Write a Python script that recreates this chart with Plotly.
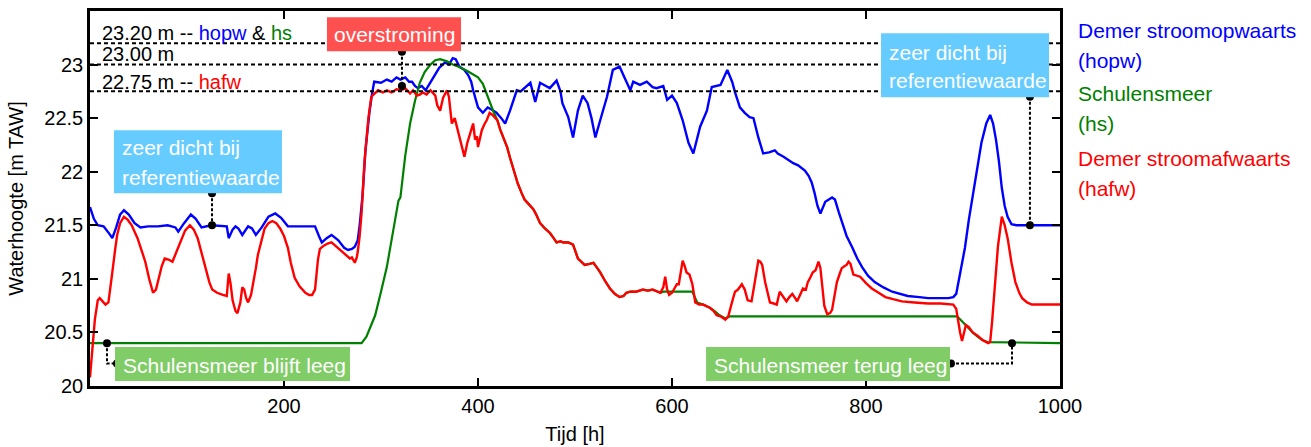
import plotly.graph_objects as go

# ---- water levels [m TAW] versus time [h] ----
hopw_t = [0, 4, 8, 14, 20, 23, 27, 31, 35, 40, 46, 52, 60, 70, 80, 88, 91, 97, 104, 109, 115, 125,
          141, 143, 147, 150, 153, 157, 163, 167, 171, 177, 184, 191, 197, 204, 215, 232, 236, 239,
          244, 249, 256, 262, 266, 270, 273, 276, 278, 281, 284, 288, 291, 293, 300, 306, 311, 316,
          320, 325, 329, 332, 335, 338, 342, 346, 350, 355, 360, 366, 370, 374, 377, 381, 386, 390,
          393, 395, 398, 400, 405, 410, 414, 419, 424, 428, 433, 440, 444, 448, 454, 459, 464, 470,
          474, 481, 485, 487, 493, 498, 503, 508, 513, 517, 521, 526, 533, 539, 546, 551, 557, 560,
          567, 574, 580, 584, 591, 595, 600, 605, 611, 617, 622, 629, 636, 641, 650, 657, 662, 665,
          670, 675, 680, 684, 689, 694, 700, 706, 709, 715, 720, 725, 730, 737, 741, 744, 747, 750,
          753, 758, 765, 768, 772, 775, 780, 786, 791, 796, 802, 809, 818, 827, 835, 843, 855, 864,
          875, 885, 890, 893, 897, 902, 906, 909, 914, 919, 924, 928, 931, 934, 937, 940, 943, 946,
          950, 955, 1000]
hopw = [21.67, 21.56, 21.50, 21.49, 21.42, 21.38, 21.48, 21.60, 21.64, 21.60, 21.52, 21.48, 21.49,
        21.49, 21.50, 21.48, 21.44, 21.52, 21.60, 21.56, 21.48, 21.50, 21.49, 21.38, 21.46, 21.49,
        21.47, 21.41, 21.49, 21.47, 21.41, 21.48, 21.58, 21.61, 21.57, 21.49, 21.49, 21.49, 21.40,
        21.34, 21.38, 21.41, 21.36, 21.29, 21.27, 21.28, 21.30, 21.36, 21.50, 21.78, 22.20, 22.55,
        22.74, 22.84, 22.83, 22.86, 22.84, 22.88, 22.86, 22.88, 22.84, 22.84, 22.80, 22.78, 22.80,
        22.76, 22.82, 22.90, 22.97, 23.02, 23.00, 23.06, 23.05, 22.98, 22.95, 22.90, 22.84, 22.76,
        22.66, 22.60, 22.55, 22.60, 22.58, 22.55, 22.50, 22.45, 22.57, 22.76, 22.75, 22.78, 22.83,
        22.65, 22.83, 22.80, 22.78, 22.85, 22.75, 22.64, 22.51, 22.32, 22.57, 22.71, 22.64, 22.50,
        22.32, 22.48, 22.70, 22.95, 22.98, 22.88, 22.76, 22.84, 22.81, 22.84, 22.79, 22.78, 22.80,
        22.67, 22.71, 22.64, 22.48, 22.27, 22.17, 22.42, 22.57, 22.79, 22.81, 22.95, 22.84, 22.74,
        22.60, 22.55, 22.51, 22.50, 22.32, 22.17, 22.18, 22.20, 22.17, 22.14, 22.11, 22.08, 22.06,
        22.01, 21.96, 21.90, 21.80, 21.68, 21.61, 21.72, 21.76, 21.74, 21.62, 21.53, 21.40, 21.29,
        21.19, 21.11, 21.03, 20.97, 20.92, 20.88, 20.86, 20.84, 20.83, 20.82, 20.82, 20.82, 20.83,
        20.86, 21.05, 21.29, 21.55, 21.72, 22.00, 22.27, 22.45, 22.53, 22.45, 22.30, 22.10, 21.85,
        21.68, 21.58, 21.51, 21.50, 21.50]

# falling limb shared by the lake and the downstream river
fall_t = [420, 423, 427, 430, 433, 436, 441, 445, 448, 452, 457, 460, 464, 469, 474, 478, 481, 485,
          488, 493, 498, 503, 507, 510, 515, 519, 523, 526, 531, 536, 541, 546, 550, 553, 557, 563,
          570, 575, 580, 585, 588]
fall = [22.48, 22.39, 22.30, 22.23, 22.13, 22.04, 21.89, 21.80, 21.74, 21.70, 21.65, 21.60, 21.52,
        21.47, 21.43, 21.38, 21.34, 21.35, 21.34, 21.34, 21.32, 21.19, 21.15, 21.13, 21.14, 21.15,
        21.10, 21.06, 20.98, 20.91, 20.86, 20.83, 20.84, 20.87, 20.88, 20.88, 20.90, 20.89, 20.90,
        20.88, 20.87]

hs_t = ([0, 280, 285, 289, 294, 300, 306, 312, 318, 320, 325, 330, 335, 340, 345, 351, 356, 361,
         368, 374, 380, 389, 395, 400, 405, 409, 412, 416] + fall_t +
        [591, 621, 624, 626, 632, 639, 644, 649, 655, 658, 660, 894, 899, 905, 910, 915, 920, 925,
         1000])
hs = ([20.40, 20.40, 20.46, 20.55, 20.66, 20.88, 21.11, 21.42, 21.73, 21.76, 22.15, 22.45, 22.66,
       22.83, 22.93, 23.00, 23.04, 23.05, 23.03, 23.00, 22.98, 22.94, 22.91, 22.88, 22.82, 22.72,
       22.64, 22.56] + fall +
      [20.88, 20.88, 20.82, 20.78, 20.76, 20.73, 20.70, 20.66, 20.63, 20.64, 20.65, 20.65, 20.60,
       20.54, 20.50, 20.46, 20.43, 20.41, 20.40])

hafw_t = ([0, 1, 3, 5, 8, 10, 13, 16, 19, 21, 23, 26, 28, 31, 35, 39, 43, 49, 53, 57, 61, 65, 68,
           70, 74, 77, 81, 85, 89, 93, 98, 103, 107, 111, 115, 119, 123, 126, 131, 137, 141, 143,
           145, 147, 150, 152, 155, 157, 159, 161, 163, 166, 168, 171, 173, 177, 180, 184, 188, 192,
           196, 200, 204, 207, 211, 216, 222, 226, 229, 232, 233, 235, 237, 241, 245, 249, 254, 260,
           266, 268, 270, 273, 275, 276, 278, 280, 283, 287, 290, 294, 297, 302, 306, 311, 316, 321,
           325, 330, 333, 337, 340, 343, 347, 351, 356, 358, 361, 364, 368, 370, 373, 376, 379, 382,
           384, 386, 389, 392, 395, 397, 399, 400, 402, 404, 407, 409, 412, 415, 418] + fall_t +
          [591, 593, 595, 597, 600, 603, 605, 607, 609, 611, 613, 615, 618, 621, 624, 628, 632, 636,
           639, 643, 646, 650, 655, 658, 660, 663, 665, 668, 672, 675, 678, 682, 685, 689, 691, 693,
           696, 699, 701, 705, 708, 711, 714, 718, 721, 724, 727, 729, 732, 735, 738, 740, 743, 745,
           748, 751, 753, 755, 757, 760, 763, 765, 768, 770, 773, 775, 778, 780, 782, 784, 787, 791,
           794, 800, 806, 813, 820, 828, 837, 850, 864, 877, 890, 893, 895, 897, 899, 901, 903, 906,
           910, 915, 920, 926, 928, 930, 933, 936, 940, 943, 946, 950, 954, 958, 961, 966, 971,
           1000])
hafw = ([20.08, 20.20, 20.45, 20.62, 20.80, 20.82, 20.79, 20.76, 20.78, 20.90, 21.06, 21.28, 21.41,
         21.52, 21.58, 21.55, 21.50, 21.38, 21.27, 21.16, 21.00, 20.87, 20.90, 20.97, 21.12, 21.19,
         21.18, 21.16, 21.25, 21.34, 21.45, 21.50, 21.46, 21.38, 21.24, 21.10, 20.97, 20.90, 20.87,
         20.85, 20.84, 21.05, 20.95, 20.80, 20.70, 20.68, 20.78, 20.92, 20.90, 20.82, 20.78, 20.85,
         20.94, 21.10, 21.22, 21.38, 21.47, 21.52, 21.54, 21.52, 21.47, 21.40, 21.29, 21.15, 21.01,
         20.93, 20.87, 20.85, 20.85, 20.90, 21.00, 21.18, 21.28, 21.31, 21.33, 21.34, 21.30, 21.25,
         21.20, 21.19, 21.20, 21.15, 21.20, 21.25, 21.40, 21.62, 22.10, 22.50, 22.70, 22.73, 22.76,
         22.74, 22.76, 22.74, 22.77, 22.76, 22.78, 22.73, 22.76, 22.71, 22.72, 22.74, 22.72, 22.76,
         22.71, 22.62, 22.57, 22.69, 22.76, 22.70, 22.45, 22.50, 22.39, 22.28, 22.20, 22.14, 22.27,
         22.36, 22.45, 22.30, 22.33, 22.23, 22.32, 22.39, 22.45, 22.48, 22.55, 22.53, 22.50] + fall +
        [20.92, 21.02, 20.90, 20.85, 20.87, 20.92, 20.95, 20.95, 21.05, 21.17, 21.12, 21.06, 21.04,
         20.95, 20.78, 20.76, 20.76, 20.74, 20.73, 20.70, 20.66, 20.65, 20.62, 20.65, 20.73, 20.82,
         20.88, 20.90, 20.95, 20.90, 20.80, 20.79, 20.95, 21.17, 21.16, 21.13, 20.97, 20.85, 20.78,
         20.77, 20.76, 20.88, 20.84, 20.79, 20.83, 20.86, 20.82, 20.79, 20.85, 20.91, 20.90, 20.97,
         21.02, 21.06, 21.08, 21.16, 21.10, 20.90, 20.75, 20.67, 20.68, 20.71, 20.85, 20.97, 21.05,
         21.10, 21.12, 21.13, 21.16, 21.14, 21.04, 21.03, 21.02, 20.96, 20.91, 20.87, 20.83, 20.81,
         20.79, 20.78, 20.77, 20.77, 20.76, 20.72, 20.60, 20.50, 20.42, 20.50, 20.57, 20.55, 20.50,
         20.47, 20.43, 20.40, 20.41, 20.60, 21.00, 21.30, 21.58, 21.50, 21.38, 21.15, 20.97, 20.87,
         20.82, 20.78, 20.76, 20.76])

# reference levels and axis ticks
ref_levels = [23.20, 23.00, 22.75]
x_ticks = [200, 400, 600, 800, 1000]
y_ticks = [20, 20.5, 21, 21.5, 22, 22.5, 23]
y_tick_text = ["20", "20.5", "21", "21.5", "22", "22.5", "23"]

BLUE, GREEN, RED = "#0000FF", "#008000", "#FF0000"
FONT = "Liberation Sans, Arial, sans-serif"

fig = go.Figure()
fig.add_trace(go.Scatter(x=hopw_t, y=hopw, mode="lines", line=dict(color=BLUE, width=2.4)))
fig.add_trace(go.Scatter(x=hs_t, y=hs, mode="lines", line=dict(color=GREEN, width=2.2)))
fig.add_trace(go.Scatter(x=hafw_t, y=hafw, mode="lines", line=dict(color=RED, width=2.4)))

# dashed reference levels
for lvl in ref_levels:
    fig.add_shape(type="line", xref="x", yref="y", x0=0, x1=1000, y0=lvl, y1=lvl,
                  line=dict(color="black", width=2, dash="4px,3px"))

# callout boxes
boxes = [
    (244.3, 382.5, 23.125, 23.442, "#FF5050"),
    (24.7, 197.9, 21.80, 22.388, "#66CCFF"),
    (815.5, 988.7, 22.696, 23.293, "#66CCFF"),
    (25.8, 268.0, 20.047, 20.364, "#80CC66"),
    (635.1, 886.6, 20.047, 20.364, "#80CC66"),
]
for x0, x1, y0, y1, col in boxes:
    fig.add_shape(type="rect", xref="x", yref="y", x0=x0, x1=x1, y0=y0, y1=y1,
                  fillcolor=col, line=dict(width=0))

# leader lines with end dots
leaders = [
    ([321.6, 321.6], [23.12, 22.80]),
    ([125.8, 125.8], [21.80, 21.50]),
    ([969.0, 969.0], [22.70, 21.50]),
    ([17.5, 17.5, 27.8], [20.40, 20.21, 20.21]),
    ([887.6, 950.5, 950.5], [20.21, 20.21, 20.40]),
]
for lx, ly in leaders:
    fig.add_trace(go.Scatter(x=lx, y=ly, mode="lines", cliponaxis=False,
                             line=dict(color="black", width=2, dash="3px,2px")))
    fig.add_trace(go.Scatter(x=[lx[0], lx[-1]], y=[ly[0], ly[-1]], mode="markers",
                             cliponaxis=False, marker=dict(color="black", size=8)))

white = dict(family=FONT, size=21, color="white")
black = dict(family=FONT, size=20, color="black")
texts = [
    (313.4, 23.284, "overstroming", white, "center"),
    (30.9, 22.23, "zeer dicht bij", white, "left"),
    (30.9, 21.95, "referentiewaarde", white, "left"),
    (821.6, 23.116, "zeer dicht bij", white, "left"),
    (821.6, 22.854, "referentiewaarde", white, "left"),
    (32.0, 20.196, "Schulensmeer blijft leeg", white, "left"),
    (641.2, 20.196, "Schulensmeer terug leeg", white, "left"),
    (10.3, 23.293, "23.20 m -- <span style='color:#0000FF'>hopw</span> &amp; "
                   "<span style='color:#008000'>hs</span>", black, "left"),
    (10.3, 23.097, "23.00 m", black, "left"),
    (10.3, 22.836, "22.75 m -- <span style='color:#FF0000'>hafw</span>", black, "left"),
]
for tx, ty, txt, fnt, anc in texts:
    fig.add_annotation(x=tx, y=ty, xref="x", yref="y", text=txt, showarrow=False,
                       xanchor=anc, yanchor="middle", font=fnt)

# series labels on the right
legend_rows = [
    (0.949, "Demer stroomopwaarts", BLUE), (0.869, "(hopw)", BLUE),
    (0.781, "Schulensmeer", GREEN), (0.701, "(hs)", GREEN),
    (0.608, "Demer stroomafwaarts", RED), (0.528, "(hafw)", RED),
]
for ly, txt, col in legend_rows:
    fig.add_annotation(x=1.0165, y=ly, xref="paper", yref="paper", text=txt, showarrow=False,
                       xanchor="left", yanchor="middle",
                       font=dict(family=FONT, size=21, color=col))

axis_common = dict(showline=True, linecolor="black", linewidth=2.5, mirror="allticks",
                   ticks="inside", ticklen=8, tickwidth=2, tickcolor="black",
                   showgrid=False, zeroline=False, automargin=False,
                   tickfont=dict(family=FONT, size=20, color="black"))
fig.update_xaxes(range=[0, 1000], tickvals=x_ticks, ticktext=[str(v) for v in x_ticks],
                 title=dict(text="Tijd [h]", font=dict(family=FONT, size=20, color="black"),
                            standoff=12),
                 **axis_common)
fig.update_yaxes(range=[20, 23.5], tickvals=y_ticks, ticktext=y_tick_text,
                 title=dict(text="Waterhoogte [m TAW]",
                            font=dict(family=FONT, size=20, color="black"), standoff=16),
                 **axis_common)

fig.update_layout(width=1311, height=447, autosize=False, showlegend=False,
                  margin=dict(l=90, r=251, t=11, b=61),
                  plot_bgcolor="white", paper_bgcolor="white",
                  font=dict(family=FONT, size=20, color="black"))

fig.write_html("out.html")
